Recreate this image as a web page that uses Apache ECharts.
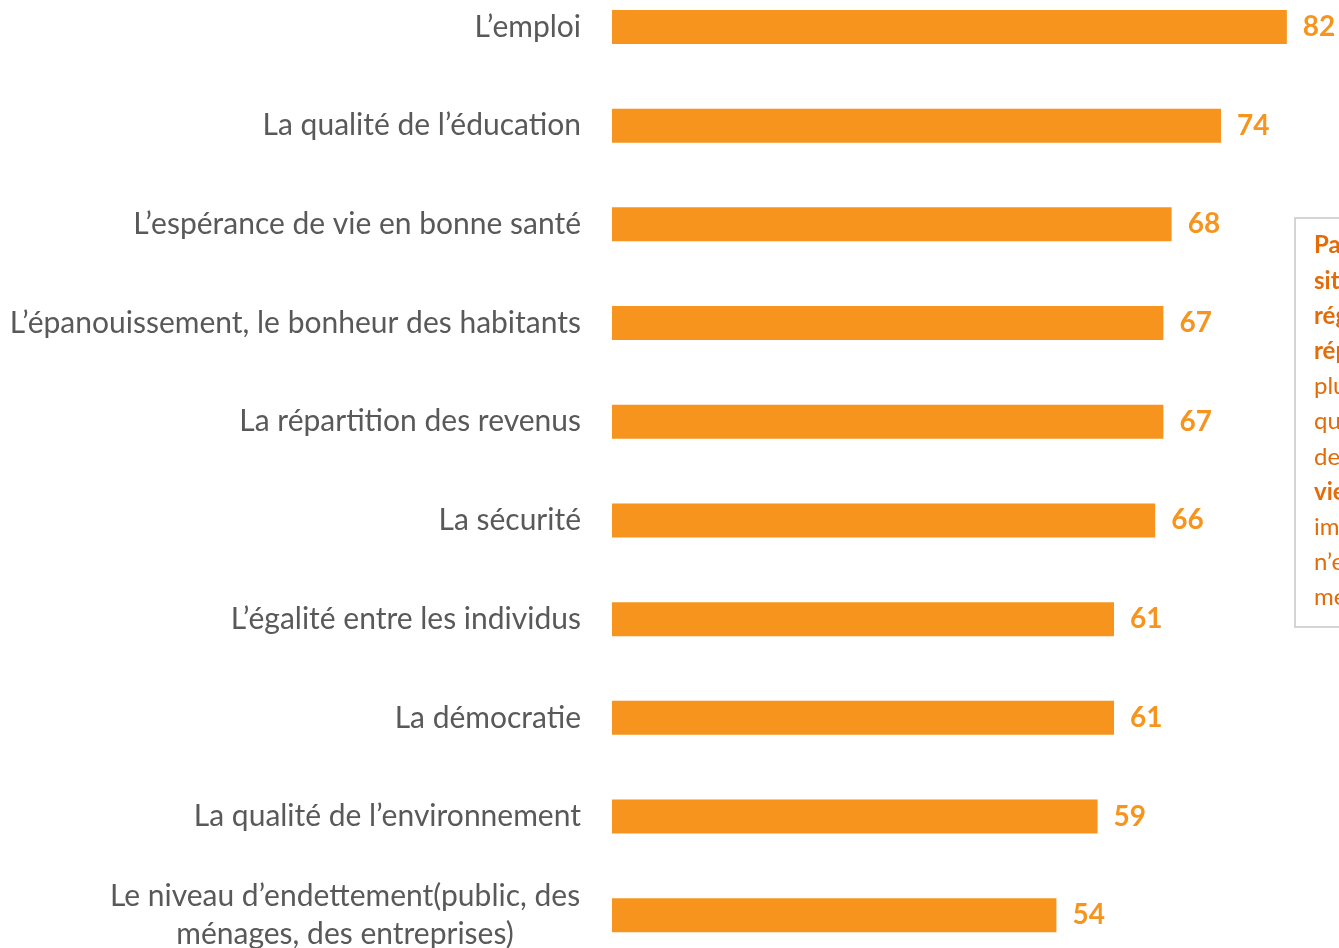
<!DOCTYPE html>
<html>
<head>
<meta charset="utf-8">
<script src="https://cdn.jsdelivr.net/npm/echarts@6/dist/echarts.min.js"></script>
<style>
  html, body { margin: 0; padding: 0; background: #fff; overflow: hidden; }
  #wrap { position: relative; width: 1339px; height: 948px; overflow: hidden; }
  /* chart area is larger than the page: first and last rows are cut like in the original */
  #chart { position: absolute; left: 0; top: -100px; width: 1600px; height: 1148px; }
</style>
</head>
<body>
<div id="wrap"><div id="chart"></div></div>
<script>
// categories from top to bottom
const categories = [
  'L’emploi',
  'La qualité de l’éducation',
  'L’espérance de vie en bonne santé',
  'L’épanouissement, le bonheur des habitants',
  'La répartition des revenus',
  'La sécurité',
  'L’égalité entre les individus',
  'La démocratie',
  'La qualité de l’environnement',
  'Le niveau d’endettement(public, des\nménages, des entreprises)'
]
const values = [82, 74, 68, 67, 67, 66, 61, 61, 59, 54]

// side note (cut by the right edge in the original)
const noteLines = [
  ['b', 'Par rapport à la'],
  ['b', 'situation de leur'],
  ['b', 'région, les'],
  ['b', 'répondants jugent'],
  ['n', 'plus souvent'],
  ['n', 'que la qualité'],
  ['n', 'de la'],
  ['b', 'vie est'],
  ['n', 'importante et'],
  ['n', 'n’est pas'],
  ['n', 'meilleure']
]

const orange = '#F7941D'
const gray = '#595959'
const labelFont = 'Lato'

const chart = echarts.init(document.getElementById('chart'))

const option = {
  animation: false,
  grid: {
    left: 612,
    top: 77.6,
    width: 823,
    height: 987,
    containLabel: false
  },
  xAxis: {
    type: 'value',
    min: 0,
    max: 100,
    show: false
  },
  yAxis: {
    type: 'category',
    inverse: true,
    data: categories,
    axisLine: { show: false },
    axisTick: { show: false },
    axisLabel: {
      margin: 31,
      fontFamily: labelFont,
      fontSize: 30,
      color: gray,
      // two-line label: lines centred on each other
      formatter: (v) => v.indexOf('\n') >= 0
        ? v.split('\n').map(s => '{c|' + s + '}').join('\n')
        : v,
      rich: {
        c: { width: 472, align: 'center', fontFamily: labelFont, fontSize: 30, color: gray, lineHeight: 38 }
      }
    }
  },
  series: [
    {
      type: 'bar',
      data: values,
      barWidth: 34,
      itemStyle: { color: orange },
      label: {
        show: true,
        position: 'right',
        distance: 16,
        color: orange,
        fontFamily: labelFont,
        fontWeight: 'bold',
        fontSize: 28
      }
    }
  ],
  graphic: [
    {
      type: 'rect',
      shape: { x: 1295, y: 318, width: 220, height: 409 },
      style: { fill: '#fff', stroke: '#c8c8c8', lineWidth: 1.5 }
    },
    {
      type: 'text',
      x: 1314,
      y: 328,
      style: {
        text: noteLines.map(l => '{' + l[0] + '|' + l[1] + '}').join('\n'),
        rich: {
          b: { fontFamily: labelFont, fontSize: 24, fontWeight: 'bold', fill: '#E36C09', lineHeight: 35.2 },
          n: { fontFamily: labelFont, fontSize: 24, fill: '#E36C09', lineHeight: 35.2 }
        }
      }
    }
  ]
}

chart.setOption(option)
</script>
</body>
</html>
